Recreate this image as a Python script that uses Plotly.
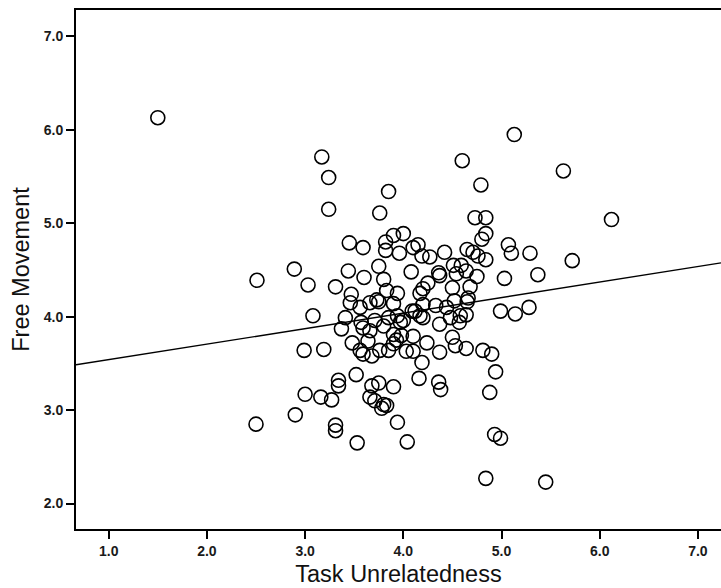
import plotly.graph_objects as go

# Task Unrelatedness (x) and Free Movement (y)
task_unrelatedness = [
    1.50, 2.51, 2.50, 2.89, 2.90, 2.99, 3.00, 3.08, 3.19, 3.16, 3.27, 3.34, 3.34, 3.31, 3.31,
    3.17, 3.24, 3.24, 3.03, 3.31, 3.45, 3.44, 3.53, 3.52,
    5.13, 4.60, 5.63, 4.79, 3.85, 3.76, 4.73, 4.84, 6.12, 4.84, 4.80, 3.90, 4.00, 3.82, 3.59,
    3.82, 3.96, 4.10, 4.15, 4.19, 4.27, 4.42, 5.07, 5.10, 5.29, 4.65, 4.71, 4.76, 4.84, 5.72,
    3.75, 4.08, 4.51, 4.59, 4.36, 4.37, 4.54, 4.64, 4.75, 3.60, 3.80, 5.03, 5.37, 4.68, 4.50,
    4.25, 4.20, 3.94, 3.83, 3.47, 3.46, 3.56, 3.66, 3.73, 4.66,
    4.99, 5.14, 5.28, 4.65, 4.52, 4.44, 4.33, 4.20, 4.12, 4.17, 4.20, 4.58, 4.64, 4.57, 4.37,
    4.48, 3.94, 3.97, 3.90, 3.75, 3.80, 3.59, 3.66, 3.90, 3.98, 4.10, 3.93, 4.24, 4.50, 4.53,
    4.64, 4.81, 4.90, 4.94, 4.88, 4.93, 4.99, 4.84, 5.45, 4.37, 4.03, 4.10, 3.85, 3.76, 3.68,
    3.59, 4.19, 4.16, 4.36, 4.38, 3.90, 3.75, 3.68, 3.66, 3.71, 3.80, 3.83, 3.78, 3.94, 4.04,
    3.41, 3.37, 3.57, 3.71, 3.85, 4.00, 4.09, 3.48, 3.64, 3.56, 3.90, 4.17,
]
free_movement = [
    6.13, 4.39, 2.85, 4.51, 2.95, 3.64, 3.17, 4.01, 3.65, 3.14, 3.11, 3.32, 3.26, 2.84, 2.78,
    5.71, 5.49, 5.15, 4.34, 4.32, 4.79, 4.49, 2.65, 3.38,
    5.95, 5.67, 5.56, 5.41, 5.34, 5.11, 5.06, 5.06, 5.04, 4.89, 4.83, 4.87, 4.89, 4.80, 4.74,
    4.71, 4.68, 4.74, 4.77, 4.65, 4.64, 4.69, 4.77, 4.68, 4.68, 4.72, 4.69, 4.65, 4.61, 4.60,
    4.54, 4.48, 4.55, 4.55, 4.47, 4.44, 4.46, 4.49, 4.43, 4.42, 4.40, 4.41, 4.45, 4.32, 4.31,
    4.36, 4.30, 4.25, 4.28, 4.24, 4.15, 4.10, 4.15, 4.18, 4.20,
    4.06, 4.03, 4.10, 4.16, 4.17, 4.10, 4.12, 4.13, 4.06, 4.01, 3.99, 4.01, 4.02, 3.94, 3.92,
    3.99, 4.01, 3.94, 4.14, 4.16, 3.90, 3.88, 3.85, 3.81, 3.80, 3.79, 3.75, 3.72, 3.78, 3.69,
    3.66, 3.64, 3.60, 3.41, 3.19, 2.74, 2.70, 2.27, 2.23, 3.62, 3.63, 3.63, 3.64, 3.64, 3.58,
    3.60, 3.51, 3.34, 3.30, 3.22, 3.25, 3.29, 3.26, 3.14, 3.10, 3.06, 3.05, 3.02, 2.87, 2.66,
    3.99, 3.87, 3.94, 3.96, 3.99, 3.96, 4.06, 3.72, 3.74, 3.64, 3.71, 4.25,
]

# Fit line
fit_intercept = 3.375
fit_slope = 0.166

x_range = [0.667, 7.235]
y_range = [1.728, 7.283]
x_ticks = [1.0, 2.0, 3.0, 4.0, 5.0, 6.0, 7.0]
y_ticks = [2.0, 3.0, 4.0, 5.0, 6.0, 7.0]

fit_y = [fit_intercept + fit_slope * v for v in x_range]

fig = go.Figure()
fig.add_trace(go.Scatter(
    x=x_range, y=fit_y, mode="lines",
    line=dict(color="black", width=1.4),
    hoverinfo="skip", showlegend=False,
))
fig.add_trace(go.Scatter(
    x=task_unrelatedness, y=free_movement, mode="markers",
    marker=dict(symbol="circle-open", size=14, color="black", line=dict(width=1.6)),
    showlegend=False,
))

tickfont = dict(family="Liberation Sans, Arial, sans-serif", size=14, color="#1a1a1a", weight="bold")
titlefont = dict(family="Liberation Sans, Arial, sans-serif", size=23.5, color="#111111")

fig.update_layout(
    width=721, height=588,
    margin=dict(l=76, r=0, t=10, b=59),
    paper_bgcolor="white", plot_bgcolor="white",
    xaxis=dict(
        range=x_range, tickvals=x_ticks, ticktext=[f"{v:.1f}" for v in x_ticks],
        showgrid=False, zeroline=False, showline=True, linecolor="black", linewidth=2,
        mirror=True, ticks="outside", ticklen=8, tickwidth=1.5, tickcolor="black",
        tickfont=tickfont, automargin=False,
        title=dict(text="Task Unrelatedness", font=titlefont, standoff=8),
    ),
    yaxis=dict(
        range=y_range, tickvals=y_ticks, ticktext=[f"{v:.1f}" for v in y_ticks],
        showgrid=False, zeroline=False, showline=True, linecolor="black", linewidth=2,
        ticks="outside", ticklen=8, tickwidth=1.5, tickcolor="black",
        tickfont=tickfont, automargin=False,
        title=dict(text="Free Movement", font=titlefont, standoff=8),
    ),
)

fig.write_html(
    "out.html",
    config={"displayModeBar": False},
    post_script="document.body.style.margin='0';document.body.style.overflow='hidden';",
)
